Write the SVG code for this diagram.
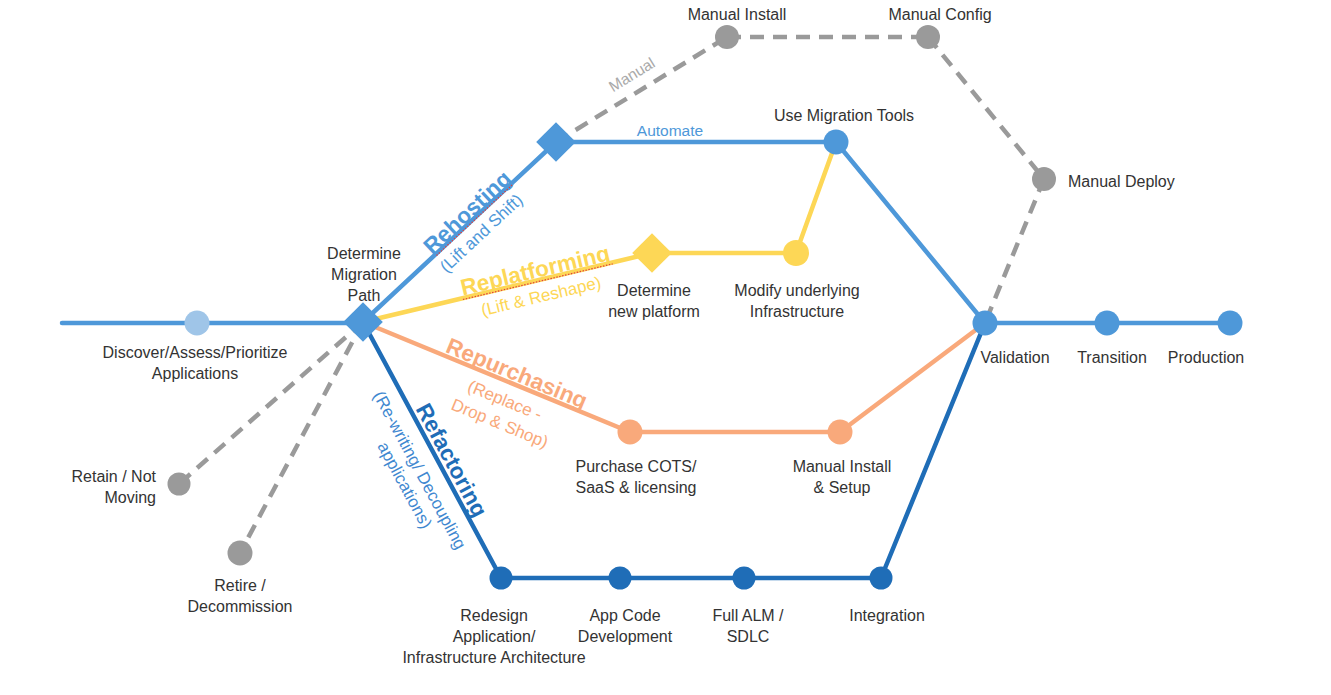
<svg xmlns="http://www.w3.org/2000/svg" width="1331" height="695" viewBox="0 0 1331 695">
<style>
.ln{fill:none;stroke-width:4.5;stroke-linecap:round;stroke-linejoin:round}
.blue{stroke:#4e98d9}.dblue{stroke:#1f6db7}.yel{stroke:#fdd756}.org{stroke:#f9a97b}
.gray{stroke:#9a9a9a;stroke-dasharray:14 9;stroke-linecap:butt}
.t{font-family:"Liberation Sans",Arial,sans-serif;font-size:16px;fill:#333;text-anchor:middle}
.b{font-family:"Liberation Sans",Arial,sans-serif;font-weight:bold;font-size:22.5px;text-anchor:middle}
.s{font-family:"Liberation Sans",Arial,sans-serif;font-size:17px;text-anchor:middle}
.sp{fill:none;stroke:#e04040;stroke-width:1.2;stroke-dasharray:1.5 1.5}
</style>
<rect width="1331" height="695" fill="#fff"/>
<g id="connectors">
<line class="ln blue" x1="62" y1="323" x2="363" y2="323"/>
<line class="ln gray" x1="363" y1="322" x2="179" y2="484"/>
<line class="ln gray" x1="363" y1="322" x2="240" y2="553"/>
<line class="ln gray" x1="556" y1="142" x2="727" y2="37"/>
<line class="ln gray" x1="727" y1="37" x2="928" y2="37"/>
<line class="ln gray" x1="928" y1="37" x2="1044" y2="179"/>
<line class="ln gray" x1="1044" y1="179" x2="985" y2="323"/>
<polyline class="ln blue" points="363,322 556,142 836,142 985,323"/>
<polyline class="ln yel" points="363,322 652,253 796,253 836,142"/>
<polyline class="ln org" points="363,322 630,432 840,432 985,323"/>
<polyline class="ln dblue" points="363,322 501,578 881,578 985,323"/>
<line class="ln blue" x1="985" y1="323" x2="1230" y2="323"/>
</g>
<g id="n-discover"><circle cx="197" cy="323" r="12.5" fill="#9fc5e8"/>
<text class="t" x="195" y="358">Discover/Assess/Prioritize</text><text class="t" x="195" y="379">Applications</text></g>
<g id="n-determine"><rect x="349" y="308" width="28" height="28" fill="#4e98d9" transform="rotate(45 363 322)"/>
<text class="t" x="364" y="259">Determine</text><text class="t" x="364" y="280">Migration</text><text class="t" x="364" y="301">Path</text></g>
<g id="n-retain"><circle cx="179" cy="484" r="11.5" fill="#9a9a9a"/>
<text class="t" x="156" y="482" style="text-anchor:end">Retain / Not</text><text class="t" x="156" y="503" style="text-anchor:end">Moving</text></g>
<g id="n-retire"><circle cx="240" cy="553" r="12.5" fill="#9a9a9a"/>
<text class="t" x="240" y="591">Retire /</text><text class="t" x="240" y="612">Decommission</text></g>
<g id="n-rehost"><rect x="542" y="128" width="28" height="28" fill="#4e98d9" transform="rotate(45 556 142)"/></g>
<g id="n-minstall"><circle cx="727" cy="37" r="12" fill="#9a9a9a"/><text class="t" x="737" y="20">Manual Install</text></g>
<g id="n-mconfig"><circle cx="928" cy="37" r="12" fill="#9a9a9a"/><text class="t" x="940" y="20">Manual Config</text></g>
<g id="n-mdeploy"><circle cx="1044" cy="179" r="12" fill="#9a9a9a"/><text class="t" x="1068" y="187" style="text-anchor:start">Manual Deploy</text></g>
<g id="n-tools"><circle cx="836" cy="142" r="12.5" fill="#4e98d9"/><text class="t" x="844" y="121">Use Migration Tools</text></g>
<g id="n-newplat"><rect x="638" y="239" width="28" height="28" fill="#fdd756" transform="rotate(45 652 253)"/>
<text class="t" x="654" y="296">Determine</text><text class="t" x="654" y="317">new platform</text></g>
<g id="n-modify"><circle cx="796" cy="253" r="13" fill="#fdd756"/>
<text class="t" x="797" y="296">Modify underlying</text><text class="t" x="797" y="317">Infrastructure</text></g>
<g id="n-purchase"><circle cx="630" cy="432" r="12.5" fill="#f9a97b"/>
<text class="t" x="636" y="472">Purchase COTS/</text><text class="t" x="636" y="493">SaaS &amp; licensing</text></g>
<g id="n-msetup"><circle cx="840" cy="432" r="12.5" fill="#f9a97b"/>
<text class="t" x="842" y="472">Manual Install</text><text class="t" x="842" y="493">&amp; Setup</text></g>
<g id="n-redesign"><circle cx="501" cy="578" r="11.5" fill="#1f6db7"/>
<text class="t" x="494" y="621">Redesign</text><text class="t" x="494" y="642">Application/</text><text class="t" x="494" y="663">Infrastructure Architecture</text></g>
<g id="n-appcode"><circle cx="620" cy="578" r="11.5" fill="#1f6db7"/>
<text class="t" x="625" y="621">App Code</text><text class="t" x="625" y="642">Development</text></g>
<g id="n-alm"><circle cx="744" cy="578" r="11.5" fill="#1f6db7"/>
<text class="t" x="748" y="621">Full ALM /</text><text class="t" x="748" y="642">SDLC</text></g>
<g id="n-integration"><circle cx="881" cy="578" r="11.5" fill="#1f6db7"/><text class="t" x="887" y="621">Integration</text></g>
<g id="n-validation"><circle cx="985" cy="323" r="12.5" fill="#4e98d9"/><text class="t" x="1015" y="363">Validation</text></g>
<g id="n-transition"><circle cx="1107" cy="323" r="12.5" fill="#4e98d9"/><text class="t" x="1112" y="363">Transition</text></g>
<g id="n-production"><circle cx="1230" cy="323" r="12.5" fill="#4e98d9"/><text class="t" x="1206" y="363">Production</text></g>
<g id="labels">
<text class="s" x="670" y="136" fill="#4e98d9" style="font-size:15.5px">Automate</text>
<g transform="translate(632,75) rotate(-31.5)"><text class="s" x="0" y="5" fill="#aaa" style="font-size:15.5px">Manual</text></g>
<g transform="translate(467,212) rotate(-43)"><text class="b" x="0" y="8" fill="#4e98d9">Rehosting</text><line class="sp" x1="-52" y1="11" x2="52" y2="11"/></g>
<g transform="translate(481,233) rotate(-43)"><text class="s" x="0" y="6" fill="#4e98d9">(Lift and Shift)</text></g>
<g transform="translate(535,270) rotate(-13.4)"><text class="b" x="0" y="8" fill="#fdd756">Replatforming</text><line class="sp" x1="-77" y1="12" x2="77" y2="12"/></g>
<g transform="translate(541,296) rotate(-13.4)"><text class="s" x="0" y="6" fill="#fdd756">(Lift &amp; Reshape)</text></g>
<g transform="translate(517,373) rotate(22.4)"><text class="b" x="0" y="8" fill="#f9a97b">Repurchasing</text></g>
<g transform="translate(505,400) rotate(22.4)"><text class="s" x="0" y="6" fill="#f9a97b">(Replace -</text></g>
<g transform="translate(500,423) rotate(22.4)"><text class="s" x="0" y="6" fill="#f9a97b">Drop &amp; Shop)</text></g>
<g transform="translate(452,460) rotate(61.7)"><text class="b" x="0" y="8" fill="#1f6db7">Refactoring</text></g>
<g transform="translate(420,470) rotate(61.7)"><text class="s" x="0" y="6" fill="#3f88d0">(Re-writing/ Decoupling</text></g>
<g transform="translate(405,485) rotate(61.7)"><text class="s" x="0" y="6" fill="#3f88d0">applications)</text></g>
</g>
</svg>
